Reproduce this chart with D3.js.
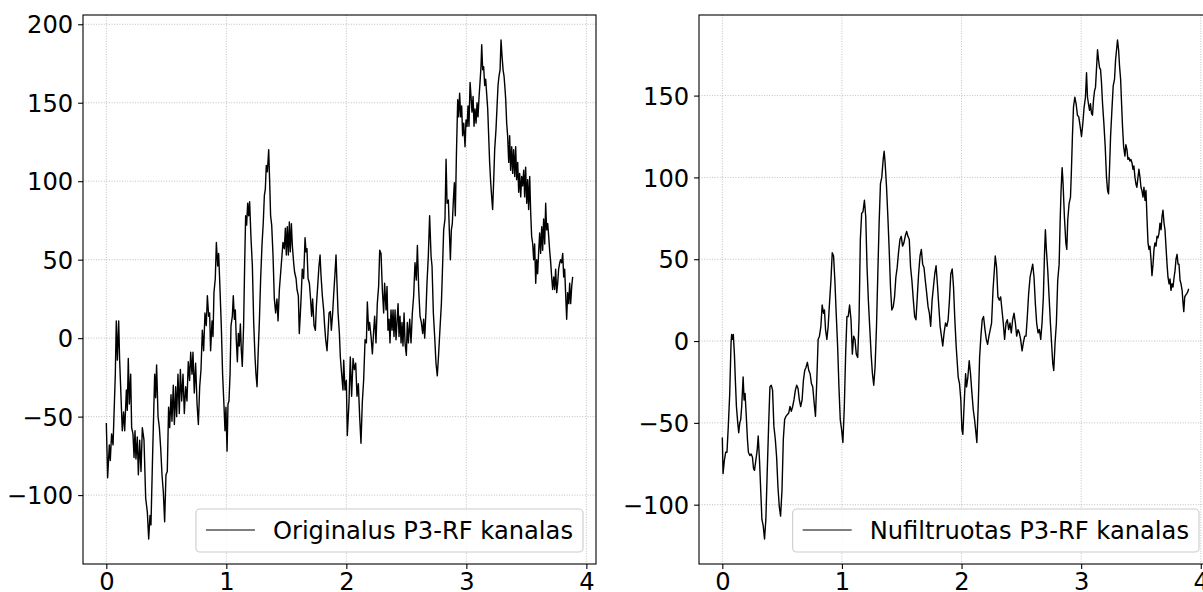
<!DOCTYPE html>
<html><head><meta charset="utf-8">
<script src="https://cdn.jsdelivr.net/npm/d3@7"></script>
<style>html,body{margin:0;padding:0;background:#fff;overflow:hidden;width:1203px;height:592px}</style>
</head><body><svg id="c" width="1215" height="592" style="display:block"></svg>
<script>
const xTicks = [0, 1, 2, 3, 4];
const yTicksLeft = [-100, -50, 0, 50, 100, 150, 200];
const yTicksRight = [-100, -50, 0, 50, 100, 150];
const legendLabels = ["Originalus P3-RF kanalas", "Nufiltruotas P3-RF kanalas"];

// [time, value]
const originalPoints = [
[0,-54],[.011,-89],[.025,-68],[.033,-78],[.044,-61],[.056,-68],[.075,-23],[.083,11],[.092,-14],[.103,11],[.111,-14],[.133,-59],[.144,-47],[.153,-59],[.167,-33],[.175,-46],[.183,-13],[.192,-42],[.203,-23],[.211,-57],[.222,-61],[.231,-76],[.239,-59],[.247,-77],[.258,-63],[.267,-87],[.278,-65],[.289,-85],[.300,-57],[.314,-65],[.328,-102],[.342,-111],[.353,-128],[.364,-113],[.372,-119],[.386,-74],[.403,-23],[.411,-38],[.419,-17],[.431,-50],[.442,-57],[.453,-70],[.464,-87],[.475,-98],[.486,-117],[.497,-87],[.508,-85],[.519,-44],[.528,-57],[.539,-36],[.547,-53],[.558,-30],[.567,-55],[.578,-31],[.586,-50],[.597,-23],[.608,-48],[.617,-20],[.628,-40],[.639,-23],[.650,-48],[.661,-31],[.672,-40],[.683,-15],[.694,-27],[.703,-9],[.714,-23],[.722,-9],[.733,-35],[.744,-16],[.756,-42],[.767,-55],[.778,-31],[.789,-20],[.800,5],[.811,-8],[.822,16],[.833,8],[.842,27],[.853,14],[.861,16],[.869,-8],[.881,11],[.889,1],[.897,29],[.908,38],[.917,61],[.928,46],[.936,54],[.944,38],[.958,8],[.969,-23],[.981,-44],[.989,-59],[.997,-44],[1.006,-72],[1.014,-42],[1.022,-40],[1.031,-23],[1.039,8],[1.050,14],[1.058,27],[1.067,12],[1.075,18],[1.083,-1],[1.092,-15],[1.100,3],[1.108,-5],[1.117,9],[1.125,-8],[1.133,-18],[1.144,8],[1.153,48],[1.161,78],[1.169,72],[1.178,86],[1.186,78],[1.194,87],[1.206,63],[1.217,46],[1.228,10],[1.239,-12],[1.247,-23],[1.256,-31],[1.264,-12],[1.275,10],[1.286,38],[1.297,59],[1.308,74],[1.317,91],[1.325,95],[1.333,110],[1.342,106],[1.353,120],[1.361,100],[1.369,78],[1.378,72],[1.389,53],[1.400,25],[1.411,16],[1.422,25],[1.431,11],[1.442,31],[1.453,42],[1.464,53],[1.472,61],[1.483,57],[1.492,70],[1.500,53],[1.508,71],[1.517,53],[1.525,74],[1.533,55],[1.542,73],[1.550,59],[1.561,48],[1.569,42],[1.581,38],[1.589,31],[1.600,27],[1.608,3],[1.617,16],[1.625,29],[1.633,44],[1.644,38],[1.656,64],[1.664,55],[1.672,57],[1.681,38],[1.692,35],[1.700,27],[1.711,14],[1.719,25],[1.731,8],[1.742,5],[1.750,20],[1.761,33],[1.772,46],[1.781,53],[1.789,40],[1.800,27],[1.811,18],[1.819,8],[1.828,-1],[1.839,-8],[1.847,3],[1.856,16],[1.867,17],[1.875,5],[1.886,16],[1.894,27],[1.906,42],[1.914,53],[1.922,35],[1.931,16],[1.942,3],[1.950,-12],[1.961,-23],[1.972,-33],
[1.978,-14],[1.989,-33],[2.0,-27],[2.008,-62],[2.022,-41],[2.033,-12],[2.044,-37],[2.056,-13],[2.067,-20],[2.078,-16],[2.089,-37],[2.1,-29],[2.111,-50],[2.122,-67],[2.133,-41],[2.144,-27],[2.156,-1],[2.167,-3],[2.175,23],[2.186,5],[2.194,10],[2.206,1],[2.217,-10],[2.228,5],[2.236,14],[2.247,-3],[2.258,22],[2.269,33],[2.278,56],[2.289,54],[2.3,31],[2.311,16],[2.319,35],[2.331,18],[2.339,33],[2.347,5],[2.356,12],[2.364,-3],[2.372,18],[2.381,5],[2.389,18],[2.397,1],[2.406,18],[2.414,-1],[2.422,10],[2.431,22],[2.439,1],[2.447,14],[2.456,-3],[2.464,10],[2.472,-5],[2.481,16],[2.489,-3],[2.5,-11],[2.508,10],[2.517,-3],[2.528,12],[2.539,-3],[2.55,16],[2.561,27],[2.572,48],[2.583,37],[2.592,59],[2.603,31],[2.614,14],[2.625,10],[2.636,3],[2.644,12],[2.653,0],[2.664,18],[2.672,35],[2.683,52],[2.694,78],[2.706,52],[2.714,46],[2.725,16],[2.736,1],[2.747,-16],[2.758,-24],[2.769,-10],[2.781,7],[2.792,22],[2.8,41],[2.811,69],[2.822,76],[2.831,114],[2.839,86],[2.85,88],[2.858,69],[2.867,50],[2.875,69],[2.883,73],[2.892,88],[2.9,99],[2.908,78],[2.917,116],[2.928,152],[2.936,141],[2.944,156],[2.953,141],[2.961,148],[2.969,129],[2.978,137],[2.989,122],[2.997,139],[3.006,135],[3.014,148],[3.022,135],[3.031,163],[3.039,154],[3.047,144],[3.056,154],[3.064,135],[3.072,146],[3.081,137],[3.089,150],[3.097,141],[3.106,154],[3.114,163],[3.122,173],[3.128,187],[3.136,171],[3.144,173],[3.153,161],[3.161,165],[3.169,156],[3.178,146],[3.186,129],[3.194,112],[3.203,99],[3.211,90],[3.219,82],[3.228,101],[3.236,120],[3.247,133],[3.256,148],[3.264,161],[3.272,167],[3.281,171],[3.289,190],[3.297,180],[3.306,171],[3.314,167],[3.322,159],[3.328,152],[3.336,137],[3.344,129],[3.353,112],[3.361,129],[3.369,107],[3.378,122],[3.386,105],[3.394,120],[3.403,103],[3.411,122],[3.419,101],[3.428,112],[3.436,93],[3.444,105],[3.453,90],[3.461,103],[3.469,97],[3.478,107],[3.486,90],[3.494,109],[3.503,86],[3.511,101],[3.519,82],[3.528,103],[3.536,80],[3.544,65],[3.553,60],[3.561,50],[3.569,60],[3.578,35],[3.586,50],[3.594,41],[3.603,56],[3.611,67],[3.619,54],[3.628,71],[3.636,56],[3.644,76],[3.653,60],[3.661,86],[3.669,69],[3.678,73],[3.686,65],[3.694,56],[3.703,48],[3.711,39],[3.719,31],[3.728,39],[3.736,31],[3.744,44],[3.753,29],[3.761,35],[3.769,44],[3.778,48],[3.786,50],[3.794,48],[3.803,54],[3.811,39],[3.819,44],[3.828,27],[3.836,12],[3.844,29],[3.853,22],[3.861,35],[3.869,22],[3.878,33],[3.886,39]
];

const filteredPoints = [
[0,-59],[.006,-81],[.017,-73],[.028,-68],[.039,-68],[.05,-52],[.062,-32],[.073,-1],[.078,4],[.087,1],[.092,4],[.101,-8],[.109,-24],[.118,-40],[.129,-50],[.137,-56],[.146,-50],[.154,-48],[.162,-40],[.174,-22],[.182,-36],[.19,-32],[.199,-44],[.21,-60],[.218,-68],[.23,-70],[.241,-69],[.252,-71],[.261,-78],[.269,-79],[.28,-73],[.291,-67],[.3,-58],[.311,-73],[.322,-93],[.331,-109],[.342,-113],[.353,-121],[.364,-109],[.375,-81],[.387,-52],[.398,-28],[.409,-27],[.42,-30],[.431,-52],[.443,-60],[.454,-71],[.465,-89],[.476,-101],[.487,-107],[.499,-91],[.51,-60],[.521,-48],[.532,-46],[.543,-45],[.555,-44],[.566,-40],[.577,-43],[.588,-40],[.599,-36],[.611,-30],[.622,-27],[.633,-29],[.644,-36],[.655,-40],[.667,-36],[.678,-24],[.689,-18],[.7,-16],[.711,-13],[.723,-18],[.734,-20],[.745,-26],[.756,-28],[.768,-38],[.779,-46],[.79,-24],[.801,1],[.812,3],[.824,9],[.835,22],[.846,17],[.854,19],[.863,7],[.874,1],[.885,9],[.896,23],[.908,37],[.919,54],[.93,52],[.941,37],[.952,17],[.964,-3],[.975,-28],[.986,-48],[.997,-54],[1.008,-62],[1.02,-40],[1.031,-8],[1.042,15],[1.053,15],[1.064,22],[1.076,13],[1.087,-8],[1.098,3],[1.109,1],[1.12,-8],[1.132,-10],[1.143,13],[1.154,62],[1.165,78],[1.176,79],[1.188,86],[1.199,76],[1.21,45],[1.221,25],[1.232,9],[1.244,-8],[1.255,-20],[1.266,-27],[1.277,-16],[1.289,9],[1.3,41],[1.311,72],[1.322,96],[1.333,100],[1.345,111],[1.353,116],[1.361,109],[1.373,94],[1.384,76],[1.395,56],[1.406,33],[1.417,19],[1.429,21],[1.44,27],[1.451,39],[1.462,45],[1.473,54],[1.485,62],[1.496,64],[1.507,58],[1.518,60],[1.529,64],[1.541,67],[1.552,64],[1.563,62],[1.574,45],[1.585,37],[1.597,25],[1.608,15],[1.619,13],[1.63,27],[1.641,41],[1.653,52],[1.664,56],[1.675,47],[1.686,45],[1.697,37],[1.709,29],[1.72,21],[1.731,17],[1.742,9],[1.754,25],[1.765,33],[1.776,41],[1.787,46],[1.798,35],[1.81,21],[1.821,9],[1.832,3],[1.843,-3],[1.854,5],[1.866,11],[1.877,9],[1.888,13],[1.899,25],[1.91,41],[1.922,44],[1.933,33],[1.944,13],[1.955,-3],
[1.972,-22],[1.983,-26],[1.994,-36],[2.003,-54],[2.011,-57],[2.022,-38],[2.034,-20],[2.042,-28],[2.053,-22],[2.064,-12],[2.075,-20],[2.087,-32],[2.098,-42],[2.109,-48],[2.12,-56],[2.128,-62],[2.14,-38],[2.151,-10],[2.162,3],[2.173,13],[2.184,15],[2.196,7],[2.207,1],[2.218,-2],[2.229,3],[2.24,7],[2.251,11],[2.263,31],[2.274,43],[2.282,52],[2.293,45],[2.304,27],[2.316,25],[2.327,27],[2.338,19],[2.349,11],[2.36,1],[2.372,11],[2.383,13],[2.394,7],[2.405,11],[2.416,5],[2.427,13],[2.439,17],[2.45,11],[2.461,3],[2.472,7],[2.483,5],[2.494,1],[2.506,-6],[2.517,-1],[2.528,3],[2.539,3],[2.55,15],[2.561,29],[2.573,39],[2.584,43],[2.595,47],[2.606,39],[2.617,23],[2.628,11],[2.64,5],[2.651,7],[2.662,1],[2.673,11],[2.684,27],[2.693,52],[2.701,68],[2.709,56],[2.721,43],[2.732,27],[2.743,11],[2.754,-3],[2.763,-14],[2.771,-18],[2.782,-1],[2.793,11],[2.804,37],[2.816,47],[2.824,72],[2.832,92],[2.841,106],[2.849,96],[2.86,76],[2.872,60],[2.88,56],[2.888,74],[2.899,84],[2.911,88],[2.919,105],[2.927,125],[2.936,143],[2.947,149],[2.958,145],[2.969,138],[2.98,137],[2.992,131],[3.003,125],[3.014,133],[3.025,143],[3.036,149],[3.045,164],[3.053,149],[3.061,145],[3.07,141],[3.078,145],[3.087,139],[3.095,138],[3.103,147],[3.112,153],[3.12,155],[3.128,166],[3.137,178],[3.145,172],[3.154,167],[3.162,166],[3.17,158],[3.179,145],[3.19,133],[3.201,119],[3.212,100],[3.221,92],[3.229,90],[3.237,105],[3.246,125],[3.257,141],[3.268,156],[3.279,160],[3.288,172],[3.296,178],[3.304,184],[3.313,178],[3.321,168],[3.33,160],[3.338,145],[3.346,131],[3.355,119],[3.366,113],[3.374,120],[3.383,117],[3.391,111],[3.399,112],[3.408,110],[3.416,111],[3.425,109],[3.433,105],[3.441,107],[3.45,100],[3.458,96],[3.466,94],[3.475,100],[3.483,105],[3.492,100],[3.5,94],[3.508,92],[3.517,88],[3.525,94],[3.534,86],[3.542,92],[3.55,76],[3.559,60],[3.567,56],[3.575,58],[3.584,50],[3.592,40],[3.601,47],[3.609,56],[3.617,60],[3.626,58],[3.634,64],[3.642,63],[3.651,66],[3.659,72],[3.668,68],[3.676,76],[3.684,80],[3.693,72],[3.701,68],[3.709,58],[3.718,47],[3.726,39],[3.735,35],[3.743,38],[3.751,31],[3.76,35],[3.768,33],[3.777,39],[3.785,43],[3.793,50],[3.802,53],[3.81,47],[3.818,47],[3.827,37],[3.835,35],[3.844,31],[3.852,23],[3.858,18],[3.866,27],[3.874,28],[3.883,29],[3.891,30],[3.899,32]
];

const svg = d3.select("#c");
const FONT = "'DejaVu Sans', sans-serif";
const FS = "24.2px";

function padded(ext) {
  const m = (ext[1] - ext[0]) * 0.05;
  return [ext[0] - m, ext[1] + m];
}

function panel(pts, yTicks, label, box) {
  const g = svg.append("g");
  const x = d3.scaleLinear().domain(padded(d3.extent(pts, d => d[0]))).range([box.x0, box.x1]);
  const y = d3.scaleLinear().domain(padded(d3.extent(pts, d => d[1]))).range([box.y1, box.y0]);

  // grid
  const grid = g.append("g").attr("stroke", "#b0b0b0").attr("stroke-width", 0.8).attr("stroke-dasharray", "1,1.6");
  xTicks.forEach(t => grid.append("line").attr("x1", x(t)).attr("x2", x(t)).attr("y1", box.y0).attr("y2", box.y1));
  yTicks.forEach(t => grid.append("line").attr("x1", box.x0).attr("x2", box.x1).attr("y1", y(t)).attr("y2", y(t)));

  // line
  g.append("path").datum(pts)
    .attr("fill", "none").attr("stroke", "#000").attr("stroke-width", 1.4)
    .attr("stroke-linejoin", "round")
    .attr("d", d3.line().x(d => x(d[0])).y(d => y(d[1])));

  // axes
  const ax = g.append("g").attr("transform", `translate(0,${box.y1})`)
    .call(d3.axisBottom(x).tickValues(xTicks).tickSize(4.9).tickPadding(4.9).tickFormat(d3.format("d")));
  const ay = g.append("g").attr("transform", `translate(${box.x0},0)`)
    .call(d3.axisLeft(y).tickValues(yTicks).tickSize(4.9).tickPadding(4.9).tickFormat(d3.format("d")));
  [ax, ay].forEach(a => {
    a.select(".domain").remove();
    a.selectAll(".tick line").attr("stroke", "#000").attr("stroke-width", 1.1);
    a.selectAll(".tick text").attr("fill", "#000").style("font-family", FONT).style("font-size", FS);
  });
  ay.selectAll(".tick text").attr("dy", "0.36em");
  ax.selectAll(".tick text").attr("dy", "0.68em");

  // spines
  const sp = g.append("g").attr("stroke", "#000").attr("stroke-width", 1.1).attr("fill", "none");
  sp.append("rect").attr("x", box.x0).attr("y", box.y0).attr("width", box.x1 - box.x0).attr("height", box.y1 - box.y0);

  // legend
  const lg = g.append("g");
  const rect = lg.append("rect");
  const txt = lg.append("text").text(label).style("font-family", FONT).style("font-size", FS).attr("fill", "#000");
  const tw = txt.node().getComputedTextLength();
  const bx1 = box.x1 - 13, by1 = box.y1 - 12, bh = 43;
  const bw = tw + 87;
  const bx0 = bx1 - bw, by0 = by1 - bh;
  rect.attr("x", bx0).attr("y", by0).attr("width", bw).attr("height", bh).attr("rx", 4)
    .attr("fill", "#fff").attr("fill-opacity", 0.8).attr("stroke", "#cccccc").attr("stroke-width", 1.1);
  lg.append("line").attr("x1", bx0 + 10).attr("x2", bx0 + 59).attr("y1", by0 + 21).attr("y2", by0 + 21)
    .attr("stroke", "#000").attr("stroke-width", 1.1);
  txt.attr("x", bx0 + 77).attr("y", by0 + 30);
}

panel(originalPoints, yTicksLeft, legendLabels[0], {x0: 83, x1: 596, y0: 15, y1: 564});
panel(filteredPoints, yTicksRight, legendLabels[1], {x0: 699, x1: 1212, y0: 15, y1: 564});
</script></body></html>
